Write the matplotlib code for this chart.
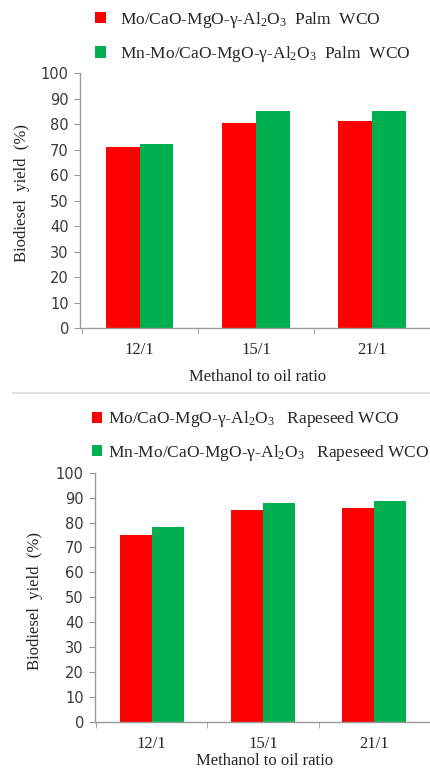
import matplotlib
matplotlib.use("Agg")
import matplotlib.pyplot as plt
from matplotlib.lines import Line2D
import numpy as np

plt.rcParams['mathtext.fontset'] = 'custom'
plt.rcParams['mathtext.rm'] = 'Liberation Serif'
plt.rcParams['mathtext.it'] = 'Liberation Serif'
plt.rcParams['mathtext.default'] = 'rm'

categories = ["12/1", "15/1", "21/1"]
palm_mo = [70.8, 80.2, 81.0]
palm_mnmo = [72.3, 85.0, 85.0]
rape_mo = [75.2, 85.0, 86.0]
rape_mnmo = [78.1, 88.0, 88.8]

labels_top = [r"Mo/CaO-MgO-γ-Al$_2$O$_3$  Palm  WCO",
              r"Mn-Mo/CaO-MgO-γ-Al$_2$O$_3$  Palm  WCO"]
labels_bot = [r"Mo/CaO-MgO-γ-Al$_2$O$_3$   Rapeseed WCO",
              r"Mn-Mo/CaO-MgO-γ-Al$_2$O$_3$   Rapeseed WCO"]

RED = "#FF0000"
GREEN = "#00B050"
SERIF = "Liberation Serif"
TXT = "#262626"

W, H = 430, 771
fig = plt.figure(figsize=(W / 100, H / 100), dpi=100)


def px_axes(left, top, right, bottom):
    return fig.add_axes([left / W, (H - bottom) / H, (right - left) / W, (bottom - top) / H])


def style(ax, xlim):
    ax.set_xlim(*xlim)
    ax.set_ylim(0, 100)
    ax.set_yticks(np.arange(0, 101, 10))
    for s in ("top", "right"):
        ax.spines[s].set_visible(False)
    for s in ("left", "bottom"):
        ax.spines[s].set_color("#9a9a9a")
        ax.spines[s].set_linewidth(1.0)
    ax.tick_params(axis="y", direction="out", length=4, color="#9a9a9a",
                   labelsize=10.5, labelcolor="#3a3a3a", pad=4)
    ax.set_xticks(range(len(categories)))
    ax.set_xticklabels(categories, fontfamily=SERIF, fontsize=12, color=TXT)
    ax.tick_params(axis="x", which="major", length=0, pad=10)
    ax.set_xticks(np.arange(-0.5, len(categories) + 0.5, 1.0), minor=True)
    ax.tick_params(axis="x", which="minor", direction="out", length=4, color="#9a9a9a")
    ax.set_xlabel("Methanol to oil ratio", fontfamily=SERIF, fontsize=12, color=TXT)
    ax.set_ylabel("Biodiesel  yield  (%)", fontfamily=SERIF, fontsize=12, color=TXT)
    ax.xaxis.label.set_va("center")
    ax.yaxis.label.set_va("center")


x = np.arange(len(categories))

# Top chart
ax1 = px_axes(80, 73, 430, 328)
bw = 0.29
ax1.bar(x - bw / 2, palm_mo, bw, color=RED, label=labels_top[0])
ax1.bar(x + bw / 2, palm_mnmo, bw, color=GREEN, label=labels_top[1])
style(ax1, (-0.515, 2.39))
ax1.yaxis.set_label_coords(22 / W, (H - 193) / H, transform=fig.transFigure)
ax1.xaxis.set_label_coords(258 / W, (H - 377) / H, transform=fig.transFigure)
ax1.legend(loc="center left", bbox_to_anchor=(95 / W, (H - 37) / H), bbox_transform=fig.transFigure,
           frameon=False, prop={"family": SERIF, "size": 12.5}, handlelength=0.65, handleheight=0.65,
           handletextpad=0.8, labelspacing=0.85, labelcolor=TXT, borderaxespad=0, borderpad=0)

# Bottom chart
ax2 = px_axes(95, 472.7, 430, 722)
bw2 = 0.286
ax2.bar(x - bw2 / 2, rape_mo, bw2, color=RED, label=labels_bot[0])
ax2.bar(x + bw2 / 2, rape_mnmo, bw2, color=GREEN, label=labels_bot[1])
style(ax2, (-0.509, 2.48))
ax2.yaxis.set_label_coords(35 / W, (H - 601) / H, transform=fig.transFigure)
ax2.xaxis.set_label_coords(265 / W, (H - 761) / H, transform=fig.transFigure)
ax2.legend(loc="center left", bbox_to_anchor=(92 / W, (H - 436) / H), bbox_transform=fig.transFigure,
           frameon=False, prop={"family": SERIF, "size": 12.5}, handlelength=0.55, handleheight=0.55,
           handletextpad=0.4, labelspacing=0.75, labelcolor=TXT, borderaxespad=0, borderpad=0)

# separator line
fig.add_artist(Line2D([13 / W, 1.0], [(H - 393) / H] * 2, transform=fig.transFigure,
                      color="#e2e2e2", lw=1.5))

fig.savefig("out.png", dpi=100)
